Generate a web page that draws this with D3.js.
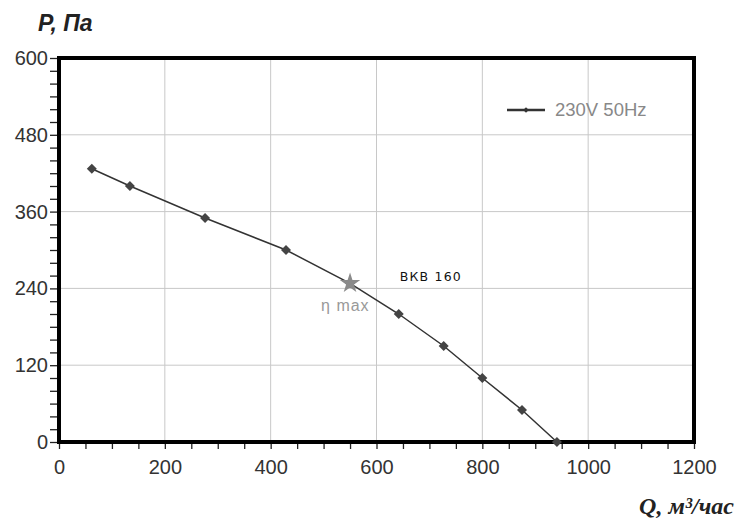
<!DOCTYPE html>
<html>
<head>
<meta charset="utf-8">
<script src="https://cdn.jsdelivr.net/npm/d3@7"></script>
<style>
  body { margin: 0; background: #fff; }
</style>
</head>
<body>
<div id="chart"></div>
<script>
// data
var flow = [62, 134, 276, 429, 550, 642, 727, 800, 875, 941];      // Q, m3/h
var pressure = [427, 400, 350, 300, 248, 200, 150, 100, 50, 0];   // P, Pa
var etaMax = [550, 248];
var xTicks = [0, 200, 400, 600, 800, 1000, 1200];
var yTicks = [0, 120, 240, 360, 480, 600];
var seriesName = "230V 50Hz";
var modelName = "ВКВ 160";

var margin = {top: 58, right: 46, bottom: 79, left: 59},
    width = 740 - margin.left - margin.right,
    height = 521 - margin.top - margin.bottom;

var svg = d3.select("#chart")
    .append("svg")
    .attr("width", 740)
    .attr("height", 521)
    .append("g")
    .attr("transform", "translate(" + margin.left + "," + margin.top + ")");

var x = d3.scaleLinear().domain([0, 1200]).range([0, width]);
var y = d3.scaleLinear().domain([0, 600]).range([height, 0]);

// grid
svg.append("g")
    .selectAll("line")
    .data(xTicks)
    .enter().append("line")
    .attr("x1", function(d) { return x(d); })
    .attr("x2", function(d) { return x(d); })
    .attr("y1", 0)
    .attr("y2", height)
    .attr("stroke", "#c8c8c8");
svg.append("g")
    .selectAll("line")
    .data(yTicks)
    .enter().append("line")
    .attr("y1", function(d) { return y(d); })
    .attr("y2", function(d) { return y(d); })
    .attr("x1", 0)
    .attr("x2", width)
    .attr("stroke", "#c8c8c8");

// minor ticks
var xAxisMinor = d3.axisBottom(x).ticks(30).tickSize(7).tickFormat("");
var yAxisMinor = d3.axisLeft(y).ticks(25).tickSize(9).tickFormat("");
var gxm = svg.append("g").attr("transform", "translate(0," + height + ")").call(xAxisMinor);
var gym = svg.append("g").call(yAxisMinor);
[gxm, gym].forEach(function(g) {
    g.select(".domain").remove();
    g.selectAll("line").attr("stroke", "#222").attr("stroke-width", 1.3);
});

// major labels
var gx = svg.append("g")
    .attr("transform", "translate(0," + height + ")")
    .call(d3.axisBottom(x).tickValues(xTicks).tickFormat(d3.format("d")).tickSize(0).tickPadding(18));
var gy = svg.append("g")
    .call(d3.axisLeft(y).tickValues(yTicks).tickFormat(d3.format("d")).tickSize(0).tickPadding(11));
[gx, gy].forEach(function(g) {
    g.select(".domain").remove();
    g.selectAll("text")
        .attr("font-family", "Liberation Sans, Arial, sans-serif")
        .attr("font-size", 20)
        .attr("fill", "#333");
});

// frame
svg.append("rect")
    .attr("x", 0).attr("y", 0)
    .attr("width", width).attr("height", height)
    .attr("fill", "none")
    .attr("stroke", "#000")
    .attr("stroke-width", 4);

// curve
var pts = flow.map(function(d, i) { return [d, pressure[i]]; });
svg.append("path")
    .datum(pts)
    .attr("fill", "none")
    .attr("stroke", "#333")
    .attr("stroke-width", 1.5)
    .attr("d", d3.line()
        .x(function(d) { return x(d[0]); })
        .y(function(d) { return y(d[1]); }));

var diamond = d3.symbol().type(d3.symbolSquare).size(50);
svg.append("g")
    .selectAll("path")
    .data(pts)
    .enter().append("path")
    .attr("d", diamond)
    .attr("transform", function(d) {
        return "translate(" + x(d[0]) + "," + y(d[1]) + ") rotate(45)";
    })
    .attr("fill", "#444");

// eta max star
svg.append("path")
    .attr("d", d3.symbol().type(d3.symbolStar).size(130))
    .attr("transform", "translate(" + x(etaMax[0]) + "," + y(etaMax[1]) + ")")
    .attr("fill", "#8a8a8a");
svg.append("text")
    .attr("x", x(etaMax[0]) - 29)
    .attr("y", y(etaMax[1]) + 28)
    .attr("font-family", "Liberation Sans, Arial, sans-serif")
    .attr("font-size", 16)
    .attr("letter-spacing", 1)
    .attr("fill", "#999")
    .text("η max");

svg.append("text")
    .attr("x", x(642) + 1)
    .attr("y", y(250) - 1)
    .attr("font-family", "DejaVu Sans, sans-serif")
    .attr("font-size", 12.5)
    .attr("letter-spacing", 1.2)
    .attr("fill", "#111")
    .text(modelName);

// legend
var lg = svg.append("g").attr("transform", "translate(448,52)");
lg.append("line")
    .attr("x1", 0).attr("x2", 38)
    .attr("stroke", "#333").attr("stroke-width", 2.5);
lg.append("path")
    .attr("d", d3.symbol().type(d3.symbolSquare).size(16))
    .attr("transform", "translate(19,0) rotate(45)")
    .attr("fill", "#333");
lg.append("text")
    .attr("x", 48)
    .attr("y", 6)
    .attr("font-family", "Liberation Sans, Arial, sans-serif")
    .attr("font-size", 18.5)
    .attr("fill", "#888")
    .text(seriesName);

// axis titles
d3.select("svg").append("text")
    .attr("x", 38)
    .attr("y", 31)
    .attr("font-family", "Liberation Sans, Arial, sans-serif")
    .attr("font-style", "italic")
    .attr("font-weight", "bold")
    .attr("font-size", 23)
    .attr("fill", "#222")
    .text("P, Па");
d3.select("svg").append("text")
    .attr("x", 734)
    .attr("y", 514)
    .attr("text-anchor", "end")
    .attr("font-family", "Liberation Serif, Times New Roman, serif")
    .attr("font-style", "italic")
    .attr("font-weight", "bold")
    .attr("font-size", 24)
    .attr("fill", "#222")
    .text("Q, м³/час");
</script>
</body>
</html>
